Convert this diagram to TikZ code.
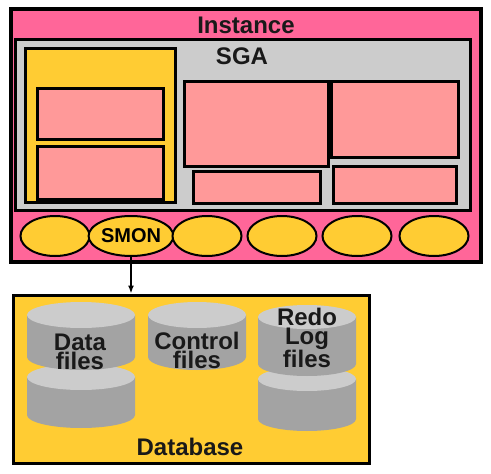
\documentclass[tikz,border=0pt]{standalone}
\usepackage{fontspec}
\setmainfont{Liberation Sans}
\usetikzlibrary{shapes.geometric,arrows.meta}
\definecolor{instpink}{HTML}{FF6699}
\definecolor{salmon}{HTML}{FF9999}
\definecolor{sgagray}{HTML}{CCCCCC}
\definecolor{gold}{HTML}{FFCC33}
\definecolor{cyltop}{HTML}{CCCCCC}
\definecolor{cylbody}{HTML}{A3A3A3}
\tikzset{
  instbox/.style={fill=instpink,draw=black,line width=4pt},
  sgabox/.style={fill=sgagray,draw=black,line width=3pt},
  goldbox/.style={fill=gold,draw=black,line width=3pt},
  membox/.style={fill=salmon,draw=black,line width=3pt},
  proc/.style={ellipse,fill=gold,draw=black,line width=2pt,minimum width=69pt,minimum height=40pt,inner sep=0pt,font=\bfseries\fontsize{20}{20}\selectfont},
  lbl/.style={font=\bfseries\fontsize{24}{24}\selectfont,text=black!90,inner sep=0pt},
  cyltxt/.style={font=\bfseries\fontsize{24}{19}\selectfont,align=center,inner sep=0pt,text=black!90},
  dbbox/.style={rectangle,fill=gold,draw=black,line width=3pt,minimum width=356pt,minimum height=168pt,inner sep=0pt},
}
% cylinder: cx, ytop-center, ybottom-center, rx, ry
\newcommand\mycyl[5]{%
  \fill[cylbody] (#1-#4,#2) -- (#1-#4,#3) arc[start angle=180,end angle=0,x radius=#4,y radius=#5] -- (#1+#4,#2) -- cycle;
  \fill[cyltop] (#1,#2) ellipse[x radius=#4,y radius=#5];
}
\begin{document}
\begin{tikzpicture}[x=1pt,y=-1pt]
\useasboundingbox (0,0) rectangle (491,474);
% instance
\path[instbox] (11,9) rectangle (481,262);
\node[lbl] (inst) at (246,25) {Instance};
% SGA
\path[sgabox] (15,39) rectangle (470,210);
\node[lbl] (sga) at (242,56) {SGA};
% yellow left area
\path[goldbox] (25,48) rectangle (175,202);
\path[membox] (37,88) rectangle (163,139);
\path[membox] (37,146) rectangle (163,199);
% middle and right buffers
\path[membox] (184,81) rectangle (328,166);
\path[membox] (193,171) rectangle (320,203);
\path[membox] (331,81) rectangle (458,157);
\path[membox] (333,166) rectangle (456,203);
% processes
\node[proc] (p1) at (55,236) {};
\node[proc] (smon) at (131,236) {SMON};
\node[proc] (p3) at (207,236) {};
\node[proc] (p4) at (282,236) {};
\node[proc] (p5) at (357,236) {};
\node[proc] (p6) at (434,236) {};
% database
\node[dbbox] (db) at (191,379) {};
\draw[line width=1.5pt,-{Latex[length=8pt,width=6pt]}] (smon.south) -- (smon.south |- db.north);
% cylinders
\mycyl{81}{377}{415}{54}{13}
\mycyl{81}{315}{357}{54}{13}
\mycyl{197}{315}{357}{49}{13}
\mycyl{307}{379}{419}{49}{12}
\mycyl{307}{317}{364}{49}{12}
\node[cyltxt] (dtxt) at (80,352) {Data\\files};
\node[cyltxt] (ctxt) at (197,350) {Control\\files};
\node[cyltxt] (rtxt) at (307,338) {Redo\\Log\\files};
\node[lbl] (dbl) at (190,447) {Database};
\end{tikzpicture}
\end{document}
